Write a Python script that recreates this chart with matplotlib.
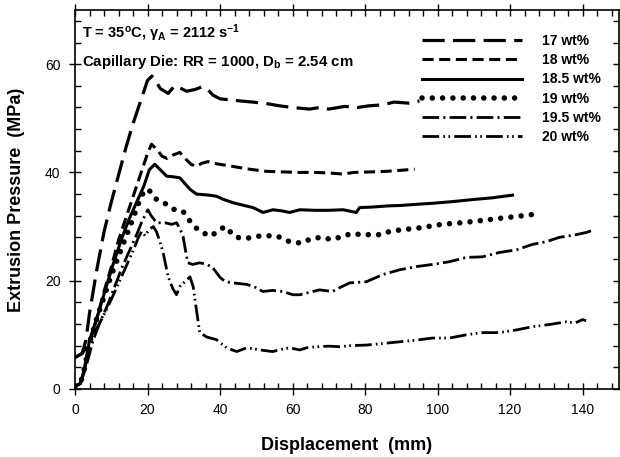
import matplotlib
matplotlib.use('Agg')
import matplotlib.pyplot as plt
from matplotlib.ticker import MultipleLocator

# font setup, arial-ish bold look
plt.rcParams['font.family'] = ['Liberation Sans', 'DejaVu Sans']
plt.rcParams['mathtext.fontset'] = 'custom'
plt.rcParams['mathtext.rm'] = 'Liberation Sans:bold'
plt.rcParams['mathtext.bf'] = 'Liberation Sans:bold'
plt.rcParams['mathtext.it'] = 'Liberation Sans:bold'
plt.rcParams['mathtext.default'] = 'bf'
plt.rcParams['lines.scale_dashes'] = False

# extrusion pressure curves (displacement mm, pressure MPa)
x17 = [0, 2, 3, 4, 6, 8, 10, 12, 14, 16, 18, 20, 21.2, 22, 23.5, 25.7, 27.5, 29, 30.8, 33, 35, 36.4,
       38, 40, 44, 49, 53, 56.5, 60, 64.7, 67.5, 70, 74.4, 78, 81, 85, 88, 92, 95]
y17 = [5.8, 6.6, 9, 14, 22, 29, 34.5, 39.5, 44.5, 49, 53, 57, 57.8, 57.2, 55.5, 54.6, 56, 55.6, 55, 55.3, 55.8, 55.5,
       54.3, 53.6, 53.3, 53, 52.7, 52.3, 52, 51.7, 52, 51.7, 52.2, 52, 52.3, 52.5, 53, 52.8, 53.2]

x18 = [0, 1.5, 2.5, 4, 6, 8, 10, 12, 14, 16, 18, 20, 21.1, 22.5, 24, 25.3, 27, 28.9, 30.5, 32, 33.5, 35, 36.7,
       39, 43.6, 48, 52.8, 57, 62, 66, 70, 73.8, 77, 82, 86, 90, 93.7]
y18 = [0.5, 1, 3, 8.5, 13, 18, 22.5, 27.5, 31.5, 35.5, 39.5, 43.5, 45.2, 44.3, 43, 42.6, 43.2, 43.7, 42.5, 41.5, 41.1, 41.7, 42,
       41.6, 41.1, 40.6, 40.2, 40.1, 40, 40, 39.9, 39.7, 40, 40.1, 40.2, 40.4, 40.6]

x185 = [0, 1.5, 2.5, 4, 6, 8, 10.5, 13, 15, 17, 19, 20.5, 22, 23.5, 25.3, 27, 28.9, 30.5, 31.7, 33.5, 35.3, 37, 39,
        41, 43.6, 46, 49.1, 51.9, 54.6, 57, 59.2, 62, 66, 70, 74, 77.6, 78.5, 82, 86, 90, 94, 98.7, 104, 110, 115, 120.7]
y185 = [0.5, 1, 3.5, 9, 13, 17.5, 23, 28, 31.5, 34.5, 37.5, 40.5, 41.5, 40.5, 39.3, 39.2, 39, 37.8, 36.9, 36, 35.9, 35.8, 35.6,
        35, 34.4, 34, 33.5, 32.6, 33.1, 32.9, 32.6, 33.1, 33, 33, 33.1, 32.6, 33.5, 33.6, 33.8, 33.9, 34.1, 34.3, 34.6, 35, 35.3, 35.8]

x19 = [0, 1.5, 2.5, 4, 6, 8, 10, 12, 14, 16, 17.9, 19, 20.2, 22.5, 25.3, 27.5, 29.8, 31.7, 33.9, 37.2, 39, 41.3, 42.7,
       44.6, 47.3, 50, 52.8, 55.6, 58.3, 60.6, 62.8, 65.2, 68, 70.7, 73.5, 76.2, 79, 84.5, 86.8, 90, 95.6, 101, 106.6,
       112, 117, 121, 126]
y19 = [0.5, 1, 3.5, 8.5, 13, 17, 21, 24.5, 28, 31.5, 35, 36.5, 36.9, 35, 34.1, 33.1, 32.8, 31, 29.4, 28.2, 28.9, 30, 29.1,
       28, 27.8, 28.2, 28.3, 28.3, 27.4, 27, 27, 27.8, 28, 27.6, 28.1, 28.7, 28.5, 28.5, 29.1, 29.4, 29.8, 30.4, 30.7,
       31.1, 31.5, 31.8, 32.2]

x195 = [0, 1.5, 3, 5, 7, 9, 11, 13, 15, 17, 18.5, 20.1, 21, 22.5, 24.8, 26.7, 28, 29, 29.8, 30.5, 31.1, 32.5, 34.4,
        36.4, 38, 40, 41.5, 43.5, 47.4, 50, 51.8, 54.5, 57.3, 60.1, 62, 65.6, 67.5, 71, 73, 75.8, 80.4, 84.8, 89.5,
        94.2, 98.6, 103.3, 108, 112.4, 117, 121.8, 126.2, 130, 133.6, 138.3, 141, 143.2]
y195 = [0.5, 1, 4, 9, 12.5, 15.5, 19, 22.5, 25.5, 28.5, 31, 33.1, 32, 30.7, 30.7, 30.4, 30.7, 29.5, 28.2, 25.5, 23.3, 23, 23.3,
        23, 22.4, 20.6, 19.8, 19.6, 19.3, 18.7, 18, 18.2, 18, 17.4, 17.4, 18, 18.3, 18, 18.7, 19.6, 19.8, 21.1, 22,
        22.6, 23, 23.5, 24.3, 24.4, 25.2, 25.7, 26.7, 27.2, 28, 28.5, 28.9, 29.4]

x20 = [0, 2, 3, 5, 7.3, 10, 12, 14, 16, 17.5, 18.4, 19.3, 20.5, 21.6, 22.5, 23.5, 24.3, 25.7, 27, 28, 28.9, 30.3,
       31.7, 32.6, 33.5, 34.4, 36.3, 39, 40.5, 41.8, 44.6, 47.4, 51, 54.5, 57, 59.2, 62, 63.9, 66.7, 70, 73, 76,
       80.4, 85, 89.5, 94, 98.6, 103.3, 108, 112.4, 117, 121.8, 126.2, 130.9, 135.5, 138, 140, 141]
y20 = [5.8, 6.5, 7.5, 10, 12.8, 16.5, 19.5, 22.5, 25.5, 28, 29.1, 28.3, 29.5, 30, 29, 27, 25.2, 20.7, 18.5, 17.4, 18.9, 19.8,
       20.7, 18.9, 14.6, 10.4, 9.6, 9.1, 8.3, 7.6, 6.9, 7.6, 7.2, 6.9, 7.3, 7.6, 7.2, 7.6, 7.8, 7.9, 7.8, 8,
       8.1, 8.4, 8.7, 9, 9.4, 9.4, 10, 10.4, 10.4, 10.9, 11.5, 11.9, 12.4, 12.2, 12.8, 12.6]

fig = plt.figure(figsize=(6.2, 4.57), dpi=100)
ax = fig.add_axes([0.121, 0.149, 0.877, 0.829])

ax.plot(x17, y17, color='black', lw=2.3, linestyle=(0, (16, 6)), label='17 wt%')
ax.plot(x18, y18, color='black', lw=2.2, linestyle=(0, (8, 4)), label='18 wt%')
ax.plot(x185, y185, color='black', lw=2.2, linestyle='-', label='18.5 wt%')
ax.plot(x19, y19, color='black', lw=4.0, linestyle=(0, (0.01, 7.4)), dash_capstyle='round', label='19 wt%')
ax.plot(x195, y195, color='black', lw=2.0, linestyle=(0, (12, 3, 1.5, 3)), label='19.5 wt%')
ax.plot(x20, y20, color='black', lw=2.0, linestyle=(0, (12, 3, 1.2, 2.5, 1.2, 3)), label='20 wt%')

ax.set_xlim(0, 150)
ax.set_ylim(0, 70)
ax.xaxis.set_major_locator(MultipleLocator(20))
ax.xaxis.set_minor_locator(MultipleLocator(4))
ax.yaxis.set_major_locator(MultipleLocator(20))
ax.yaxis.set_minor_locator(MultipleLocator(4))
ax.tick_params(which='major', direction='inout', length=9, width=1, labelsize=10,
               top=True, right=True, pad=6)
ax.tick_params(which='minor', direction='in', length=4, width=1, top=True, right=True)
# no 150 label in the original
ax.set_xticks([0, 20, 40, 60, 80, 100, 120, 140])
for s in ax.spines.values():
    s.set_linewidth(1.2)

ax.set_xlabel('Displacement  (mm)', fontsize=13, fontweight='bold', labelpad=14)
ax.set_ylabel('Extrusion Pressure  (MPa)', fontsize=13, fontweight='bold', labelpad=14)

ax.text(0.013, 0.94, r'T = 35$^{o}$C, $\gamma_{A}$ = 2112 s$^{-1}$', transform=ax.transAxes,
        fontsize=10.5, fontweight='bold', va='center', ha='left')
ax.text(0.013, 0.862, r'Capillary Die: RR = 1000, D$_{b}$ = 2.54 cm', transform=ax.transAxes,
        fontsize=10.8, fontweight='bold', va='center', ha='left')

leg = ax.legend(loc='upper right', bbox_to_anchor=(0.967, 0.937), frameon=False,
                handlelength=7.2, handletextpad=1.4, labelspacing=0.38, borderpad=0,
                borderaxespad=0, prop={'weight': 'bold', 'size': 10})

plt.savefig('out.png', dpi=100)
